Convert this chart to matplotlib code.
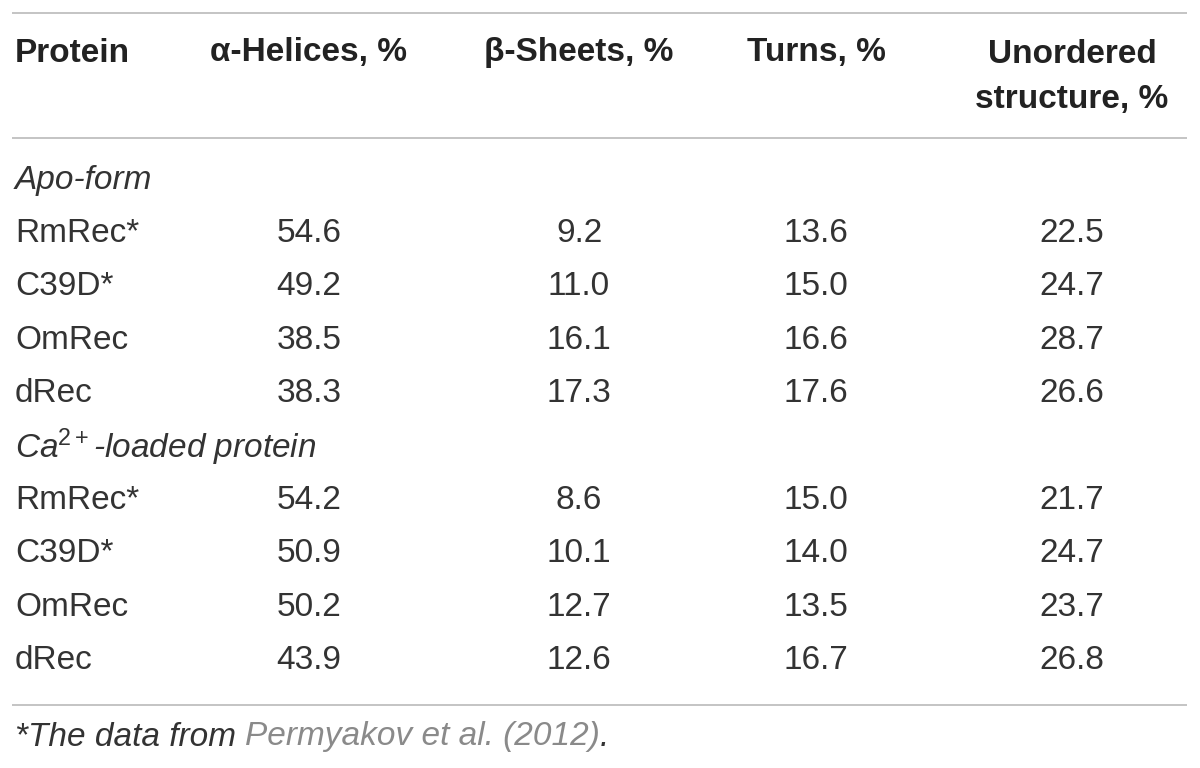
import matplotlib.pyplot as plt

plt.rcParams['font.family'] = ['Liberation Sans', 'DejaVu Sans']
plt.rcParams['mathtext.fontset'] = 'custom'
plt.rcParams['mathtext.rm'] = 'Liberation Sans'
plt.rcParams['mathtext.it'] = 'Liberation Sans:italic'

# table content
headers = ['Protein', '\u03b1-Helices, %', '\u03b2-Sheets, %', 'Turns, %', 'Unordered\nstructure, %']
groups = ['Apo-form', 'Ca$^{2+}$-loaded protein']
proteins = ['RmRec*', 'C39D*', 'OmRec', 'dRec']
helices = [[54.6, 49.2, 38.5, 38.3], [54.2, 50.9, 50.2, 43.9]]
sheets = [[9.2, 11.0, 16.1, 17.3], [8.6, 10.1, 12.7, 12.6]]
turns = [[13.6, 15.0, 16.6, 17.6], [15.0, 14.0, 13.5, 16.7]]
unordered = [[22.5, 24.7, 28.7, 26.6], [21.7, 24.7, 23.7, 26.8]]

# layout (pixels)
col_x = [15, 309, 579, 816, 1072]
row_h = 53.4
first_row = 180
fs = 24
txt = '#333333'
line_col = '#c4c4c4'

fig = plt.figure(figsize=(12, 7.68), dpi=100)
ax = fig.add_axes([0, 0, 1, 1])
ax.set_xlim(0, 1200)
ax.set_ylim(768, 0)
ax.axis('off')

# rules
for y in [13, 138, 705]:
    ax.plot([12, 1187], [y, y], color=line_col, lw=1.4, solid_capstyle='butt')

# header
for i, h in enumerate(headers):
    if '\n' in h:
        ax.text(col_x[i], 77, h, ha='center', va='center', fontsize=fs,
                fontweight='bold', color='#222222', linespacing=1.6)
    else:
        ax.text(col_x[i], 53, h, ha='left' if i == 0 else 'center', va='center',
                fontsize=fs, fontweight='bold', color='#222222')

# body
row = 0
for g, name in enumerate(groups):
    y = first_row + row * row_h
    ax.text(col_x[0], y, name, ha='left', va='center', fontsize=fs,
            style='italic', color=txt)
    row += 1
    for k, p in enumerate(proteins):
        y = first_row + row * row_h
        ax.text(col_x[0], y, p, ha='left', va='center', fontsize=fs, color=txt)
        vals = [helices[g][k], sheets[g][k], turns[g][k], unordered[g][k]]
        for c, v in enumerate(vals):
            ax.text(col_x[c + 1], y, f'{v:.1f}', ha='center', va='center',
                    fontsize=fs, color=txt)
        row += 1

# footnote with grey citation
t1 = ax.text(15, 737, '*The data from ', ha='left', va='center', fontsize=fs,
             style='italic', color=txt)
t2 = ax.annotate('Permyakov et al. (2012)', xy=(1, 0), xycoords=t1,
                 ha='left', va='bottom', fontsize=fs, style='italic', color='#8a8a8a')
ax.annotate('.', xy=(1, 0), xycoords=t2, ha='left', va='bottom',
            fontsize=fs, style='italic', color=txt)

fig.savefig('out.png', dpi=100)
